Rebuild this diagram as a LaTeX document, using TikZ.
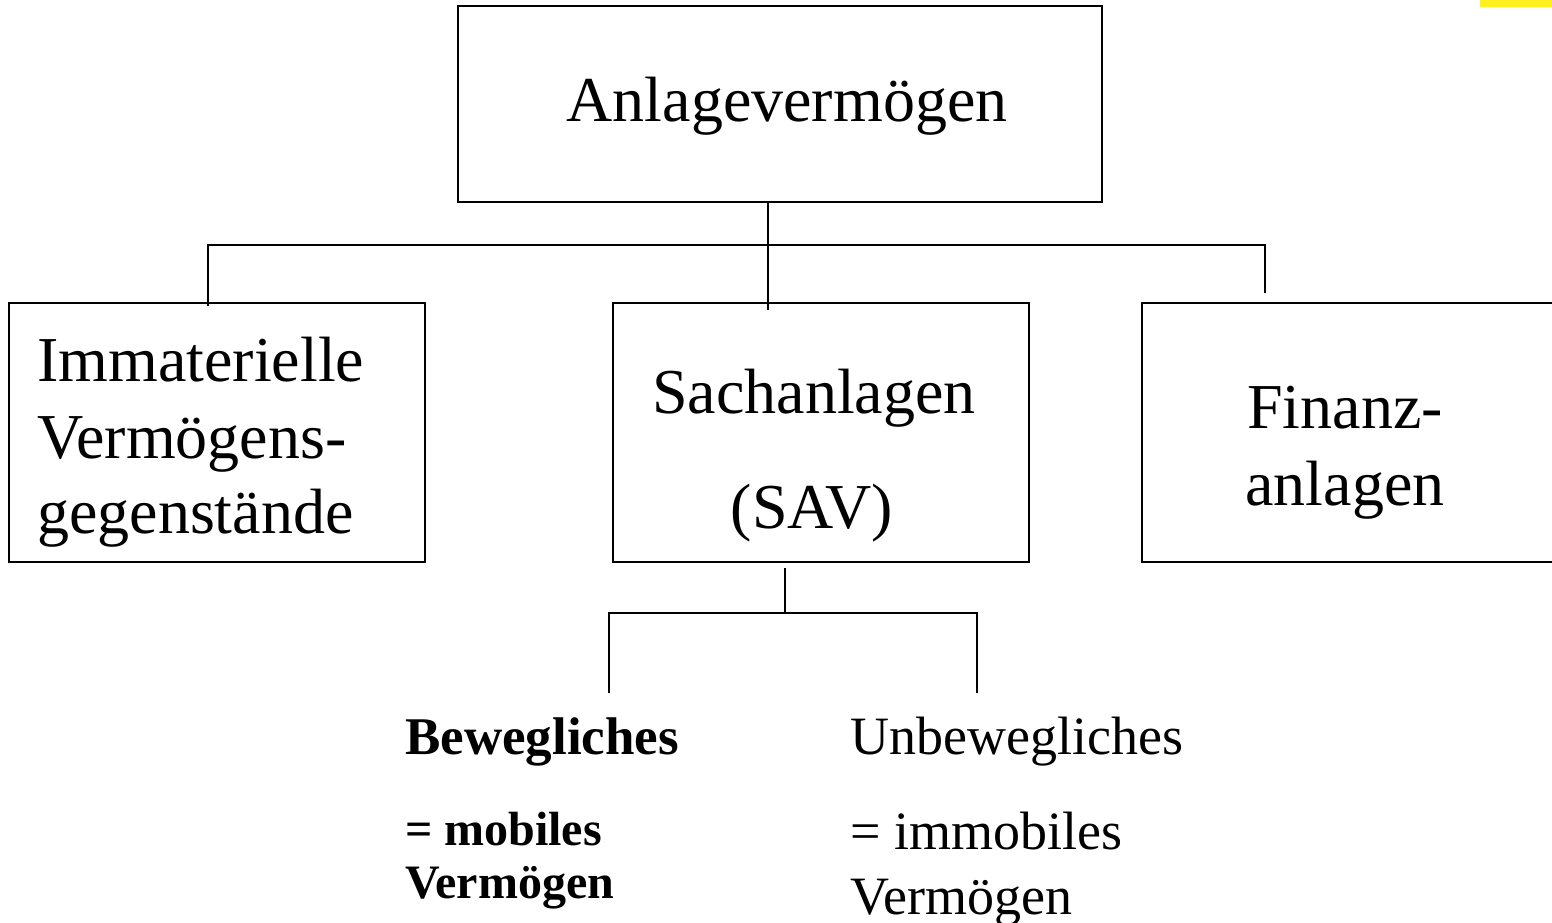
\documentclass[tikz,border=0pt]{standalone}
\usepackage{fontspec}
\setmainfont{Liberation Serif}
\usetikzlibrary{calc}
\definecolor{markyellow}{RGB}{255,240,32}
\tikzset{
  box/.style={draw=black, line width=2pt, rectangle, inner sep=0pt, anchor=north west},
  big/.style={inner sep=0pt, font=\fontsize{64}{76}\selectfont},
  small/.style={inner sep=0pt, anchor=base west, font=\fontsize{54}{64}\selectfont},
  headbold/.style={inner sep=0pt, anchor=base west, font=\fontsize{53}{63}\selectfont\bfseries},
  smallbold/.style={inner sep=0pt, anchor=base west, font=\fontsize{48}{58}\selectfont\bfseries},
  conn/.style={draw=black, line width=2pt}
}
\begin{document}
\begin{tikzpicture}[x=1pt,y=-1pt]
\useasboundingbox (0,0) rectangle (1552,923);
\clip (0,0) rectangle (1552,923);
\fill[markyellow] (1480,0) rectangle (1552,7);
% boxes
\node[box, minimum width=644pt, minimum height=196pt] (top) at (457,5) {};
\node[box, minimum width=416pt, minimum height=259pt] (imm) at (8,302) {};
\node[box, minimum width=416pt, minimum height=259pt] (mid) at (612,302) {};
\node[box, minimum width=420pt, minimum height=259pt] (fin) at (1141,302) {};
% texts
\node[big, anchor=base] (tA) at (787,122) {Anlagevermögen};
\node[big, anchor=base west] (tI1) at (37,381) {Immaterielle};
\node[big, anchor=base west] (tI2) at (37,458) {Vermögens-};
\node[big, anchor=base west] (tI3) at (37,533) {gegenstände};
\node[big, anchor=base] (tS1) at (814,413) {Sachanlagen};
\node[big, anchor=base] (tS2) at (812,528) {(SAV)};
\node[big, anchor=base] (tF1) at (1345,428) {Finanz-};
\node[big, anchor=base] (tF2) at (1345,505) {anlagen};
\node[headbold] (tB1) at (405,754) {Bewegliches};
\node[smallbold] (tB2) at (405,845) {= mobiles};
\node[smallbold] (tB3) at (405,898) {Vermögen};
\node[small] (tU1) at (850,754) {Unbewegliches};
\node[small] (tU2) at (850,849) {= immobiles};
\node[small] (tU3) at (850,914) {Vermögen};
% connectors
\coordinate (hub) at (768,245);
\coordinate (lt) at (208,245);
\coordinate (rt) at (1265,245);
\draw[conn] (hub |- top.south) -- ($(hub |- mid.north)+(0,8)$);
\draw[conn] ($(lt |- imm.north)+(0,4)$) -- (lt) -- (rt) -- ($(rt |- fin.north)+(0,-9)$);
\coordinate (bt) at (785,613);
\coordinate (bl) at (609,613);
\coordinate (br) at (977,613);
\coordinate (blend) at (609,693);
\coordinate (brend) at (977,693);
\draw[conn] ($(bt |- mid.south)+(0,5)$) -- (bt);
\draw[conn] (blend) -- (bl) -- (br) -- (brend);
\end{tikzpicture}
\end{document}
